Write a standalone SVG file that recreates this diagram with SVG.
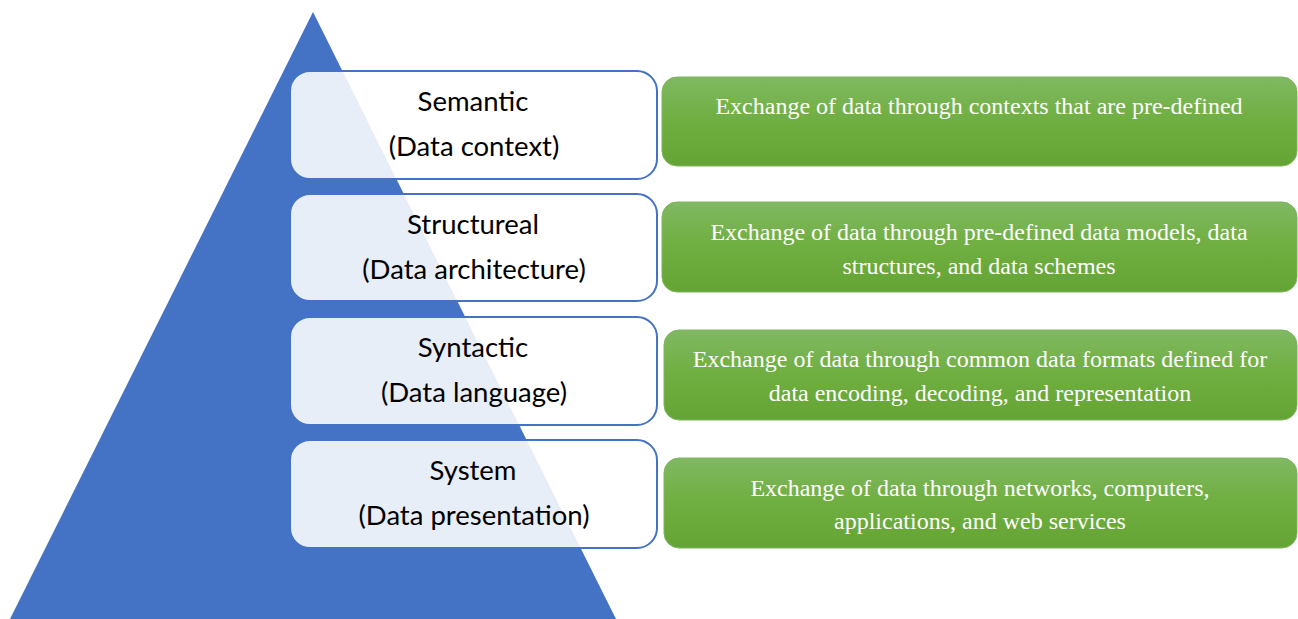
<svg xmlns="http://www.w3.org/2000/svg" width="1298" height="619" viewBox="0 0 1298 619">
<defs>
<linearGradient id="g" x1="0" y1="0" x2="0" y2="1">
<stop offset="0" stop-color="#80B962"/>
<stop offset="0.5" stop-color="#6FAE40"/>
<stop offset="1" stop-color="#64A434"/>
</linearGradient>
</defs>
<style>
.lb{fill:#FFFFFF;fill-opacity:0.88;stroke:#4472C4;stroke-width:2}
.gb{fill:url(#g);stroke:#7DB65E;stroke-width:1}
.lt{font-family:Lato,"Open Sans",sans-serif;font-size:27.5px;fill:#000;text-anchor:middle}
.gt{font-family:"Liberation Serif","Times New Roman",serif;font-size:24px;fill:#FFFFFF;text-anchor:middle}
</style>
<rect width="1298" height="619" fill="#FFFFFF"/>
<polygon id="pyramid" points="313,12 10,619 616,619" fill="#4472C4"/>
<g id="connectors"></g>
<g id="semantic">
<rect class="lb" x="290" y="71" width="367" height="108" rx="20"/>
<text class="lt" x="473" y="111">Semantic</text>
<text class="lt" x="474" y="156">(Data context)</text>
</g>
<g id="structural">
<rect class="lb" x="290" y="194" width="367" height="107" rx="20"/>
<text class="lt" x="473" y="234">Structureal</text>
<text class="lt" x="474" y="279">(Data architecture)</text>
</g>
<g id="syntactic">
<rect class="lb" x="290" y="317" width="367" height="108" rx="20"/>
<text class="lt" x="473" y="357">Syntactic</text>
<text class="lt" x="474" y="402">(Data language)</text>
</g>
<g id="system">
<rect class="lb" x="290" y="440" width="367" height="108" rx="20"/>
<text class="lt" x="473" y="480">System</text>
<text class="lt" x="474" y="525">(Data presentation)</text>
</g>
<g id="desc-semantic">
<rect class="gb" x="662" y="77" width="635" height="89" rx="15"/>
<text class="gt" x="979" y="114">Exchange of data through contexts that are pre-defined</text>
</g>
<g id="desc-structural">
<rect class="gb" x="662" y="202" width="635" height="90" rx="15"/>
<text class="gt" x="979" y="240">Exchange of data through pre-defined data models, data</text>
<text class="gt" x="979" y="274">structures, and data schemes</text>
</g>
<g id="desc-syntactic">
<rect class="gb" x="664" y="330" width="633" height="90" rx="15"/>
<text class="gt" x="980" y="367">Exchange of data through common data formats defined for</text>
<text class="gt" x="980" y="401">data encoding, decoding, and representation</text>
</g>
<g id="desc-system">
<rect class="gb" x="664" y="458" width="633" height="90" rx="15"/>
<text class="gt" x="980" y="496">Exchange of data through networks, computers,</text>
<text class="gt" x="980" y="529">applications, and web services</text>
</g>
</svg>
